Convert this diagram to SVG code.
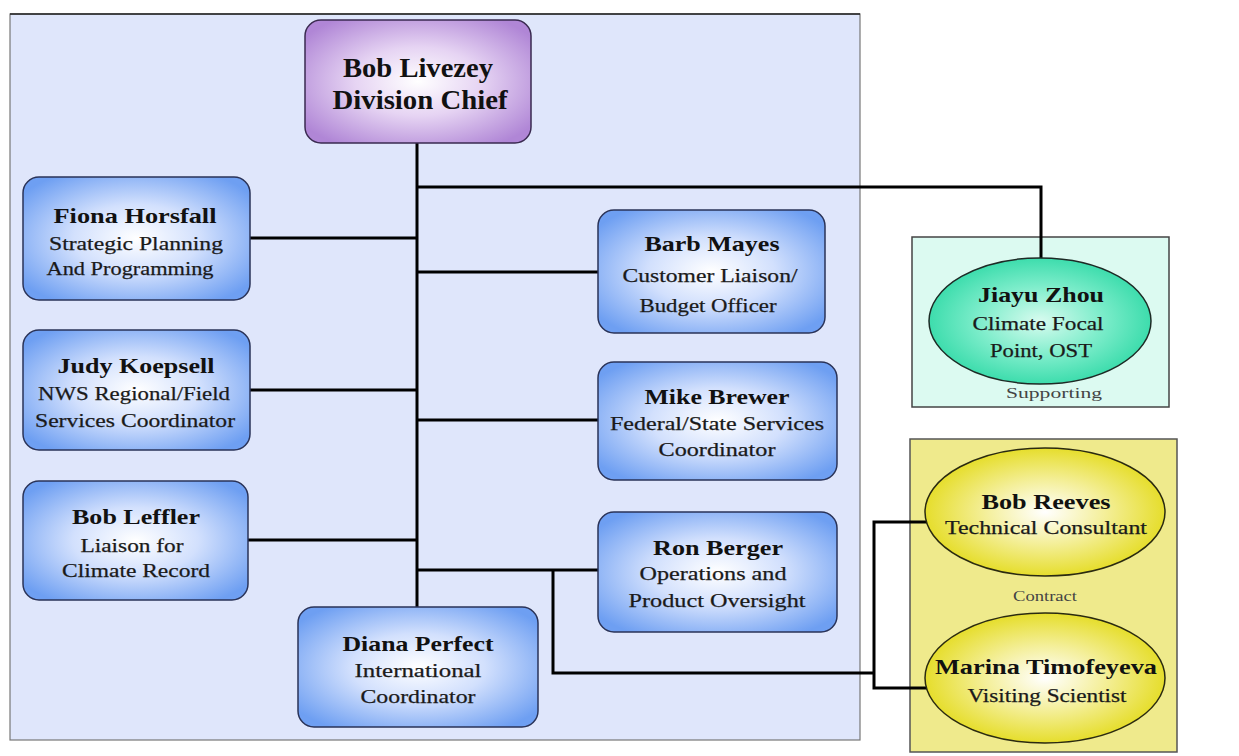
<svg xmlns="http://www.w3.org/2000/svg" width="1239" height="756" viewBox="0 0 1239 756">
<defs>
<radialGradient id="gBlue" cx="50%" cy="50%" r="62%">
<stop offset="0" stop-color="#ffffff"/>
<stop offset="0.45" stop-color="#d2e0fd"/>
<stop offset="1" stop-color="#6e9ff2"/>
</radialGradient>
<radialGradient id="gPurple" cx="50%" cy="50%" r="62%">
<stop offset="0" stop-color="#ffffff"/>
<stop offset="0.45" stop-color="#e6d4f3"/>
<stop offset="1" stop-color="#b086d6"/>
</radialGradient>
<radialGradient id="gTeal" cx="50%" cy="50%" r="55%">
<stop offset="0" stop-color="#d8fbef"/>
<stop offset="0.5" stop-color="#7eedcb"/>
<stop offset="1" stop-color="#2fd9a6"/>
</radialGradient>
<radialGradient id="gYellow" cx="50%" cy="50%" r="55%">
<stop offset="0" stop-color="#ffffff"/>
<stop offset="0.45" stop-color="#f4ef9a"/>
<stop offset="1" stop-color="#e3da16"/>
</radialGradient>
</defs>
<style>
.box{fill:url(#gBlue);stroke:#2a3358;stroke-width:1.5}
.chief{fill:url(#gPurple);stroke:#3a2a50;stroke-width:1.5}
.ell-t{fill:url(#gTeal);stroke:#1d2a25;stroke-width:1.5}
.ell-y{fill:url(#gYellow);stroke:#2a2a10;stroke-width:1.5}
.name{font-family:"Liberation Serif","Times New Roman",serif;font-weight:bold;font-size:22px;fill:#111;text-anchor:middle}
.sub{font-family:"Liberation Serif","Times New Roman",serif;font-size:19.5px;fill:#1a1a1a;text-anchor:middle;stroke:#1a1a1a;stroke-width:0.25}
.small{font-family:"Liberation Serif","Times New Roman",serif;font-size:15px;fill:#444;text-anchor:middle}
.conn{fill:none;stroke:#000;stroke-width:3}
</style>
<rect width="1239" height="756" fill="#ffffff"/>
<!-- main panel -->
<rect x="10" y="14" width="850" height="726" fill="#dfe6fb" stroke="#777" stroke-width="1.2"/>
<line x1="10" y1="14" x2="860" y2="14" stroke="#222" stroke-width="1.5"/>
<!-- side panels -->
<rect x="912" y="237" width="257" height="170" fill="#dcfaf1" stroke="#444" stroke-width="1.5"/>
<rect x="910" y="439" width="267" height="313" fill="#efea8c" stroke="#555" stroke-width="1.5"/>

<g id="connectors">
<path class="conn" d="M417,143 V607"/>
<path class="conn" d="M417,187 H1041 V259"/>
<path class="conn" d="M250,238 H417"/>
<path class="conn" d="M417,272 H598"/>
<path class="conn" d="M250,390 H417"/>
<path class="conn" d="M417,420 H598"/>
<path class="conn" d="M248,540 H417"/>
<path class="conn" d="M417,570 H598"/>
<path class="conn" d="M553,570 V673 H874"/>
<path class="conn" d="M927,522 H874 V688 H927"/>
</g>

<g id="bob-livezey">
<rect class="chief" x="305" y="20" width="226" height="123" rx="16"/>
<text class="name" style="font-size:27px" x="418" y="77" textLength="150" lengthAdjust="spacingAndGlyphs">Bob Livezey</text>
<text class="name" style="font-size:27px" x="420" y="109" textLength="175" lengthAdjust="spacingAndGlyphs">Division Chief</text>
</g>

<g id="fiona-horsfall">
<rect class="box" x="23" y="177" width="227" height="123" rx="16"/>
<text class="name" x="135" y="223" textLength="163" lengthAdjust="spacingAndGlyphs">Fiona Horsfall</text>
<text class="sub" x="136" y="250" textLength="174" lengthAdjust="spacingAndGlyphs">Strategic Planning</text>
<text class="sub" x="130" y="275" textLength="167" lengthAdjust="spacingAndGlyphs">And Programming</text>
</g>

<g id="judy-koepsell">
<rect class="box" x="23" y="330" width="227" height="120" rx="16"/>
<text class="name" x="136" y="373" textLength="157" lengthAdjust="spacingAndGlyphs">Judy Koepsell</text>
<text class="sub" x="134" y="400" textLength="192" lengthAdjust="spacingAndGlyphs">NWS Regional/Field</text>
<text class="sub" x="135" y="427" textLength="200" lengthAdjust="spacingAndGlyphs">Services Coordinator</text>
</g>

<g id="bob-leffler">
<rect class="box" x="23" y="481" width="225" height="119" rx="16"/>
<text class="name" x="136" y="524" textLength="128" lengthAdjust="spacingAndGlyphs">Bob Leffler</text>
<text class="sub" x="132" y="552" textLength="103" lengthAdjust="spacingAndGlyphs">Liaison for</text>
<text class="sub" x="136" y="577" textLength="148" lengthAdjust="spacingAndGlyphs">Climate Record</text>
</g>

<g id="diana-perfect">
<rect class="box" x="298" y="607" width="240" height="120" rx="16"/>
<text class="name" x="418" y="651" textLength="151" lengthAdjust="spacingAndGlyphs">Diana Perfect</text>
<text class="sub" x="418" y="677" textLength="127" lengthAdjust="spacingAndGlyphs">International</text>
<text class="sub" x="418" y="703" textLength="115" lengthAdjust="spacingAndGlyphs">Coordinator</text>
</g>

<g id="barb-mayes">
<rect class="box" x="598" y="210" width="227" height="123" rx="16"/>
<text class="name" x="712" y="251" textLength="135" lengthAdjust="spacingAndGlyphs">Barb Mayes</text>
<text class="sub" x="710" y="282" textLength="175" lengthAdjust="spacingAndGlyphs">Customer Liaison/</text>
<text class="sub" x="708" y="312" textLength="137" lengthAdjust="spacingAndGlyphs">Budget Officer</text>
</g>

<g id="mike-brewer">
<rect class="box" x="598" y="362" width="239" height="118" rx="16"/>
<text class="name" x="717" y="404" textLength="145" lengthAdjust="spacingAndGlyphs">Mike Brewer</text>
<text class="sub" x="717" y="430" textLength="214" lengthAdjust="spacingAndGlyphs">Federal/State Services</text>
<text class="sub" x="717" y="456" textLength="117" lengthAdjust="spacingAndGlyphs">Coordinator</text>
</g>

<g id="ron-berger">
<rect class="box" x="598" y="512" width="239" height="120" rx="16"/>
<text class="name" x="718" y="555" textLength="130" lengthAdjust="spacingAndGlyphs">Ron Berger</text>
<text class="sub" x="713" y="580" textLength="147" lengthAdjust="spacingAndGlyphs">Operations and</text>
<text class="sub" x="717" y="607" textLength="177" lengthAdjust="spacingAndGlyphs">Product Oversight</text>
</g>

<g id="jiayu-zhou">
<ellipse class="ell-t" cx="1040" cy="321" rx="111" ry="63"/>
<text class="name" x="1041" y="302" textLength="126" lengthAdjust="spacingAndGlyphs">Jiayu Zhou</text>
<text class="sub" x="1038" y="330" textLength="131" lengthAdjust="spacingAndGlyphs">Climate Focal</text>
<text class="sub" x="1041" y="357" textLength="102" lengthAdjust="spacingAndGlyphs">Point, OST</text>
</g>
<text class="small" x="1054" y="398" textLength="96" lengthAdjust="spacingAndGlyphs">Supporting</text>

<g id="bob-reeves">
<ellipse class="ell-y" cx="1045" cy="512" rx="120" ry="64"/>
<text class="name" x="1046" y="509" textLength="129" lengthAdjust="spacingAndGlyphs">Bob Reeves</text>
<text class="sub" x="1046" y="534" textLength="202" lengthAdjust="spacingAndGlyphs">Technical Consultant</text>
</g>
<text class="small" x="1045" y="601" textLength="64" lengthAdjust="spacingAndGlyphs">Contract</text>

<g id="marina-timofeyeva">
<ellipse class="ell-y" cx="1045" cy="678" rx="120" ry="65"/>
<text class="name" x="1046" y="674" textLength="222" lengthAdjust="spacingAndGlyphs">Marina Timofeyeva</text>
<text class="sub" x="1047" y="702" textLength="159" lengthAdjust="spacingAndGlyphs">Visiting Scientist</text>
</g>
</svg>
